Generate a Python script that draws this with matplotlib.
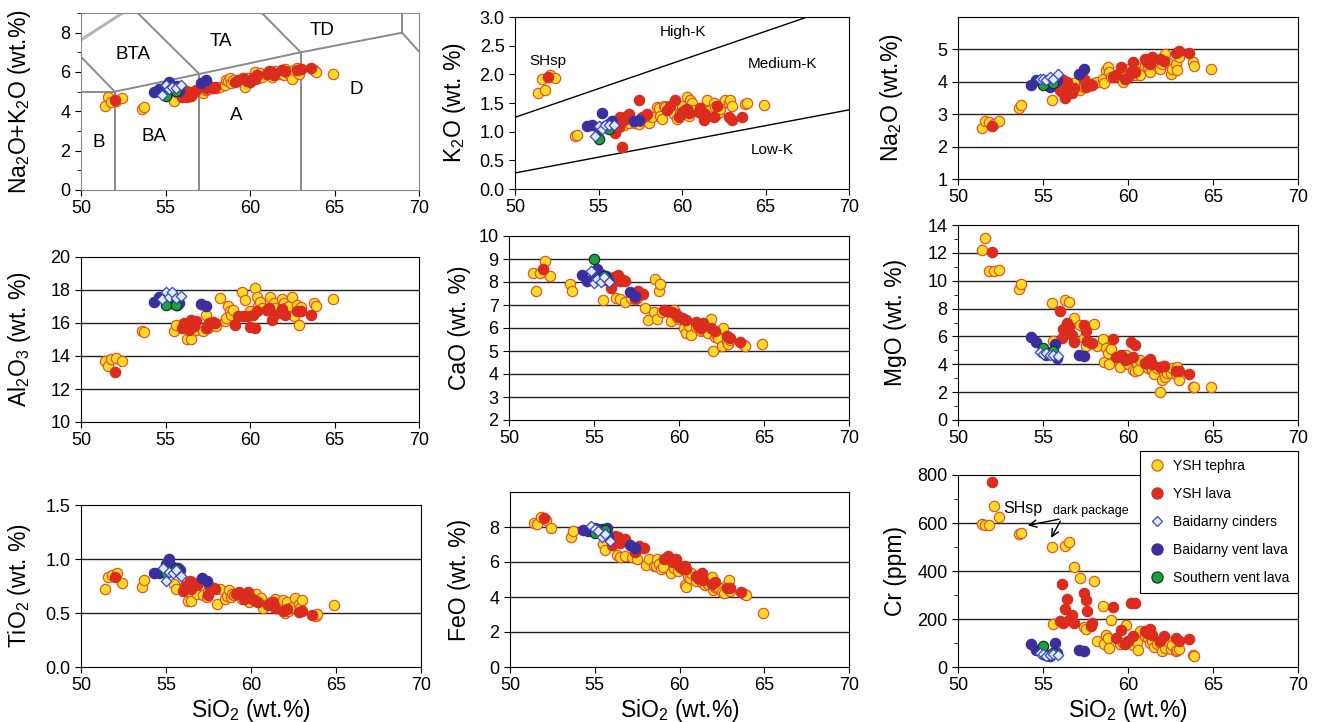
import matplotlib
matplotlib.use("Agg")
import matplotlib.pyplot as plt
import numpy as np
from matplotlib.lines import Line2D
from matplotlib.ticker import MultipleLocator

plt.rcParams.update({
    "font.family": "Liberation Sans", "font.size": 13,
    "mathtext.fontset": "custom", "mathtext.rm": "Liberation Sans",
    "mathtext.default": "regular",
    "xtick.direction": "out", "ytick.direction": "out",
    "xtick.major.size": 4, "ytick.major.size": 4, "ytick.minor.size": 3,
})

# --- SiO2 of each sample group -------------------------------------------
TEPHRA_SIO2 = [51.4, 51.6, 51.8, 52.1, 52.4, 53.6, 53.7, 55.5, 55.6, 56.3,
               56.5, 56.8, 57.2, 57.4, 57.5, 58.0, 58.2, 58.5, 58.6, 58.7,
               58.8, 58.9, 59.0, 59.5, 59.7, 59.9, 60.0, 60.3, 60.4, 60.5,
               60.6, 60.7, 61.0, 61.2, 61.3, 61.4, 61.5, 61.7, 61.9, 62.0,
               62.1, 62.2, 62.3, 62.5, 62.6, 62.8, 62.9, 63.0, 63.8, 63.9,
               64.9]
LAVA_SIO2 = [52.0, 56.0, 56.1, 56.2, 56.3, 56.4, 56.5, 56.7, 56.8, 57.4,
             57.5, 57.6, 57.8, 57.9, 59.1, 59.3, 59.6, 59.8, 60.0, 60.2,
             60.3, 60.4, 61.0, 61.1, 61.3, 61.4, 61.9, 62.1, 62.8, 63.0,
             63.6]
CINDER_SIO2 = [54.8, 55.0, 55.2, 55.4, 55.6, 55.9]
VENT_SIO2 = [54.3, 54.6, 55.0, 55.2, 55.4, 55.7, 55.8, 57.1, 57.4]
SOUTH_SIO2 = [55.0, 55.6]

# --- Na2O+K2O ---------------------------------------------------------------
TEPHRA_ALK = [4.25, 4.75, 4.5, 4.55, 4.7, 4.1, 4.2, 4.55, 5.0, 4.85,
              4.9, 5.05, 4.95, 5.1, 5.15, 5.2, 5.25, 5.35, 5.6, 5.55,
              5.7, 5.45, 5.6, 5.5, 5.25, 5.7, 5.55, 6.0, 5.85, 5.7,
              5.95, 5.75, 5.9, 6.0, 5.75, 5.95, 6.05, 5.9, 6.1, 5.85,
              6.15, 6.0, 5.9, 5.65, 6.1, 6.2, 5.9, 6.15, 6.1, 6.0, 5.9]
LAVA_ALK = [4.6, 4.75, 4.9, 5.05, 4.75, 5.0, 4.8, 5.0, 5.1, 5.2,
            5.25, 5.3, 5.2, 5.25, 5.5, 5.6, 5.7, 5.55, 5.5, 5.7,
            5.65, 5.85, 5.9, 6.05, 6.0, 5.85, 6.1, 6.05, 6.1, 6.15, 6.2]
CINDER_ALK = [4.85, 5.35, 5.15, 5.25, 5.2, 5.35]
VENT_ALK = [5.0, 5.15, 5.3, 5.5, 5.1, 5.3, 5.05, 5.45, 5.6]
SOUTH_ALK = [4.8, 5.05]

# --- K2O ----------------------------------------------------------------------
TEPHRA_K2O = [1.68, 1.92, 1.72, 1.98, 1.93, 0.92, 0.95, 1.08, 1.12, 1.18,
              1.12, 1.15, 1.15, 1.13, 1.18, 1.15, 1.25, 1.43, 1.42, 1.28,
              1.22, 1.45, 1.43, 1.3, 1.22, 1.33, 1.45, 1.6, 1.28, 1.55,
              1.5, 1.38, 1.35, 1.3, 1.4, 1.45, 1.55, 1.38, 1.5, 1.43,
              1.3, 1.35, 1.4, 1.52, 1.55, 1.5, 1.55, 1.45, 1.48, 1.5, 1.47]
LAVA_K2O = [1.95, 0.98, 1.2, 1.08, 1.25, 0.74, 1.2, 1.28, 1.3, 1.55,
            1.2, 1.25, 1.28, 1.3, 1.37, 1.45, 1.55, 1.25, 1.35, 1.38,
            1.4, 1.32, 1.35, 1.42, 1.2, 1.3, 1.25, 1.45, 1.25, 1.2, 1.25]
CINDER_K2O = [0.93, 1.1, 1.05, 1.12, 1.12, 1.12]
VENT_K2O = [1.1, 1.12, 1.05, 1.33, 1.1, 1.15, 1.18, 1.18, 1.2]
SOUTH_K2O = [0.87, 1.05]

# --- Na2O ---------------------------------------------------------------------
TEPHRA_NA2O = [2.58, 2.8, 2.75, 2.7, 2.8, 3.2, 3.28, 3.45, 3.9, 3.85,
               3.75, 3.95, 3.75, 3.85, 3.9, 3.95, 4.0, 4.1, 3.95, 4.35,
               4.45, 4.3, 4.15, 4.2, 4.0, 4.35, 4.4, 4.35, 4.2, 4.45,
               4.3, 4.2, 4.5, 4.45, 4.3, 4.6, 4.6, 4.5, 4.4, 4.55,
               4.7, 4.85, 4.6, 4.25, 4.4, 4.55, 4.35, 4.75, 4.6, 4.5, 4.4]
LAVA_NA2O = [2.65, 3.75, 3.7, 4.05, 3.5, 4.0, 3.8, 3.65, 3.8, 4.1,
             3.85, 3.95, 3.9, 3.9, 4.15, 4.2, 4.45, 4.1, 4.15, 4.3,
             4.6, 4.3, 4.7, 4.6, 4.55, 4.75, 4.7, 4.65, 4.9, 4.95, 4.9]
CINDER_NA2O = [4.1, 4.1, 4.05, 4.15, 4.1, 4.25]
VENT_NA2O = [3.9, 4.05, 3.95, 3.9, 3.85, 4.0, 4.05, 4.25, 4.4]
SOUTH_NA2O = [3.9, 3.95]

# --- Al2O3 --------------------------------------------------------------------
TEPHRA_AL2O3 = [13.7, 13.4, 13.8, 13.9, 13.7, 15.5, 15.45, 15.5, 15.9, 15.0,
                15.05, 15.6, 15.5, 16.5, 15.7, 15.8, 17.5, 16.1, 16.3, 17.05,
                16.7, 16.5, 16.8, 17.85, 17.4, 16.4, 16.75, 18.15, 17.6, 17.0,
                17.3, 16.9, 16.8, 17.6, 16.7, 17.2, 16.9, 16.6, 17.45, 17.2,
                16.9, 16.8, 17.0, 17.6, 16.4, 17.1, 15.9, 16.95, 17.2, 17.05,
                17.45]
LAVA_AL2O3 = [13.0, 15.7, 16.0, 15.9, 16.0, 15.55, 16.2, 15.8, 16.1, 15.7,
              15.9, 16.0, 16.05, 16.0, 15.9, 16.4, 16.4, 16.4, 15.75, 16.5,
              15.7, 16.7, 16.8, 16.9, 16.2, 16.5, 16.85, 16.5, 16.7, 16.7,
              16.5]
CINDER_AL2O3 = [17.45, 17.85, 17.6, 17.9, 17.5, 17.65]
VENT_AL2O3 = [17.3, 17.55, 17.3, 17.45, 17.2, 17.1, 17.2, 17.15, 17.05]
SOUTH_AL2O3 = [17.1, 17.1]

# --- CaO ----------------------------------------------------------------------
TEPHRA_CAO = [8.4, 7.6, 8.4, 8.9, 8.25, 7.9, 7.6, 7.2, 8.1, 7.3,
              7.25, 7.15, 7.3, 7.25, 7.3, 6.85, 6.35, 6.7, 8.15, 6.4,
              7.6, 7.9, 6.7, 6.3, 6.8, 6.5, 6.4, 6.0, 5.8, 6.2,
              6.1, 5.7, 6.05, 6.1, 5.85, 5.9, 5.95, 5.8, 6.4, 5.0,
              5.6, 5.75, 5.55, 5.2, 6.0, 5.45, 5.3, 5.5, 5.25, 5.2, 5.3]
LAVA_CAO = [8.55, 7.75, 8.0, 8.2, 8.1, 8.3, 8.05, 8.1, 8.05, 7.3,
            7.55, 7.6, 7.5, 7.5, 6.8, 6.75, 6.7, 6.6, 6.5, 6.45,
            6.4, 6.35, 6.25, 6.1, 6.0, 6.2, 6.0, 5.85, 5.65, 5.55, 5.4]
CINDER_CAO = [8.5, 7.95, 8.15, 8.0, 8.2, 8.0]
VENT_CAO = [8.3, 8.05, 8.4, 8.55, 8.35, 8.25, 8.1, 7.55, 7.4]
SOUTH_CAO = [9.0, 8.25]

# --- MgO ----------------------------------------------------------------------
TEPHRA_MGO = [12.2, 13.1, 10.7, 10.7, 10.8, 9.4, 9.8, 8.4, 5.7, 8.6,
              8.5, 7.3, 6.8, 5.9, 5.3, 6.9, 5.3, 5.8, 4.2, 5.2,
              4.8, 4.0, 5.1, 3.8, 4.5, 4.7, 4.0, 3.6, 3.5, 4.1,
              3.6, 4.3, 4.1, 3.7, 3.9, 3.6, 3.3, 3.7, 2.0, 2.9,
              3.9, 3.1, 3.4, 3.4, 3.7, 3.3, 3.8, 2.9, 2.4, 2.4, 2.4]
LAVA_MGO = [12.05, 7.8, 5.9, 6.5, 6.4, 7.0, 6.7, 6.1, 5.6, 6.8,
            6.4, 5.7, 5.5, 5.5, 5.8, 4.5, 4.7, 4.3, 4.4, 5.6,
            4.5, 5.4, 4.1, 4.2, 4.35, 4.0, 3.8, 3.9, 3.5, 3.5, 3.3]
CINDER_MGO = [4.9, 4.75, 4.8, 4.7, 4.65, 4.6]
VENT_MGO = [5.95, 5.6, 5.0, 4.7, 4.8, 5.45, 4.45, 4.65, 4.6]
SOUTH_MGO = [5.15, 4.95]

# --- TiO2 ---------------------------------------------------------------------
TEPHRA_TIO2 = [0.72, 0.83, 0.85, 0.87, 0.78, 0.74, 0.81, 0.77, 0.72, 0.61,
               0.61, 0.68, 0.67, 0.65, 0.70, 0.58, 0.72, 0.63, 0.66, 0.71,
               0.65, 0.68, 0.67, 0.63, 0.66, 0.60, 0.64, 0.68, 0.60, 0.62,
               0.64, 0.55, 0.58, 0.60, 0.57, 0.63, 0.55, 0.58, 0.62, 0.50,
               0.60, 0.52, 0.55, 0.56, 0.64, 0.58, 0.55, 0.62, 0.47, 0.49,
               0.57]
LAVA_TIO2 = [0.83, 0.70, 0.75, 0.73, 0.76, 0.80, 0.72, 0.78, 0.76, 0.79,
             0.67, 0.74, 0.73, 0.72, 0.68, 0.69, 0.63, 0.69, 0.64, 0.62,
             0.61, 0.60, 0.57, 0.58, 0.60, 0.55, 0.52, 0.54, 0.51, 0.52,
             0.48]
CINDER_TIO2 = [0.92, 0.80, 0.88, 0.87, 0.90, 0.84]
VENT_TIO2 = [0.87, 0.87, 0.95, 1.0, 0.93, 0.92, 0.90, 0.82, 0.80]
SOUTH_TIO2 = [0.87, 0.91]

# --- FeO ----------------------------------------------------------------------
TEPHRA_FEO = [8.25, 8.2, 8.55, 8.4, 7.95, 7.45, 7.75, 7.05, 6.7, 6.4,
              6.3, 6.35, 6.3, 6.6, 6.2, 5.85, 6.15, 5.8, 5.75, 6.15,
              5.9, 5.6, 5.7, 5.4, 5.65, 5.5, 5.8, 4.7, 4.6, 5.2,
              5.1, 5.35, 4.9, 5.0, 4.85, 4.8, 4.7, 4.75, 5.15, 4.4,
              4.6, 4.5, 4.55, 4.3, 4.25, 4.7, 5.0, 4.35, 4.15, 4.1, 3.1]
LAVA_FEO = [8.5, 7.0, 7.2, 7.5, 7.3, 7.45, 7.1, 7.2, 7.3, 6.6,
            6.75, 6.9, 6.8, 6.8, 6.2, 6.35, 6.0, 6.15, 5.7, 5.6,
            5.8, 5.6, 5.2, 5.1, 5.4, 4.95, 4.75, 4.85, 4.5, 4.5, 4.3]
CINDER_FEO = [8.05, 7.9, 7.8, 7.45, 7.6, 7.2]
VENT_FEO = [7.85, 7.8, 7.95, 7.9, 7.9, 7.95, 7.5, 6.95, 6.8]
SOUTH_FEO = [7.65, 7.85]

# --- Cr (ppm) -----------------------------------------------------------------
TEPHRA_CR = [595, 590, 590, 670, 625, 555, 560, 500, 180, 505,
             520, 415, 370, 165, 160, 360, 110, 255, 95, 135,
             120, 80, 195, 95, 100, 175, 110, 90, 120, 105,
             70, 150, 130, 120, 100, 110, 85, 95, 100, 65,
             120, 80, 110, 75, 90, 65, 70, 75, 50, 45, np.nan]
LAVA_CR = [770, 190, 345, 185, 240, 285, 195, 215, 185, 310,
           280, 235, 170, 185, 250, 120, 155, 95, 110, 265,
           130, 265, 150, 140, 160, 135, 110, 130, 120, 110, 115]
CINDER_CR = [60, 55, 45, 50, 55, 50]
VENT_CR = [95, 70, 55, 50, 45, 100, 60, 70, 68]
SOUTH_CR = [88, 58]

# classification boundaries (TAS of Le Bas et al.; K2O series)
TAS_LINES = [[(50, 5), (52, 5)], [(52, 0), (52, 5)], [(57, 0), (57, 5.9)],
             [(63, 0), (63, 7)], [(52, 5), (57, 5.9), (63, 7), (69, 8)],
             [(69, 8), (69, 13)], [(69, 8), (77.3, 0)], [(52, 5), (49.4, 7.3)],
             [(57, 5.9), (53, 9.3)], [(63, 7), (57.6, 11.7)]]
TAS_TOP_LINE = [(49.4, 7.3), (53, 9.3)]
TAS_FIELDS = [("B", 51.05, 2.4), ("BA", 54.3, 2.7), ("BTA", 53.1, 6.9),
              ("TA", 58.3, 7.55), ("TD", 64.25, 8.1), ("A", 59.2, 3.8),
              ("D", 66.3, 5.1)]
K_LINES = [[(50, 1.25), (70, 3.25)], [(50, 0.28), (70, 1.38)]]
K_FIELDS = [("SHsp", 51.95, 2.23), ("High-K", 60.05, 2.73),
            ("Medium-K", 66.0, 2.18), ("Low-K", 65.4, 0.68)]

TEPHRA_C, TEPHRA_E = "#FFDD22", "#E0562A"
LAVA_C, LAVA_E = "#E12A1E", "#D0301E"
CINDER_C, CINDER_E = "#E2ECFF", "#3A48C0"
VENT_C = "#3B2FA0"
SOUTH_C, SOUTH_E = "#1FA040", "#0E3A18"

W, H = 1320, 722
fig = plt.figure(figsize=(W / 100, H / 100), dpi=100)


def px_axes(l, r, t, b):
    ax = fig.add_axes([l / W, 1 - b / H, (r - l) / W, (b - t) / H])
    ax._px = (l, r)
    return ax


def draw_groups(ax, vals):
    tephra, lava, cinder, vent, south = vals
    kw = dict(s=55, linewidths=0.9, zorder=3)
    ax.scatter(TEPHRA_SIO2, tephra, c=TEPHRA_C, edgecolors=TEPHRA_E, **kw)
    ax.scatter(LAVA_SIO2, lava, c=LAVA_C, edgecolors=LAVA_E, **kw)
    ax.scatter(VENT_SIO2, vent, c=VENT_C, edgecolors=VENT_C, **kw)
    ax.scatter(CINDER_SIO2, cinder, c=CINDER_C, edgecolors=CINDER_E, marker="D",
               s=28, linewidths=0.9, zorder=4)
    ax.scatter(SOUTH_SIO2, south, c=SOUTH_C, edgecolors=SOUTH_E, **kw)


def style(ax, ylabel, label_px, ylim, step, fmt="{:.0f}", grid=True, minor=None,
          top_label=None, xlabel=False):
    ax.set_xlim(50, 70)
    ax.set_xticks(np.arange(50, 71, 5))
    ax.set_ylim(*ylim)
    top = ylim[1] if top_label is None else top_label
    ticks = np.arange(ylim[0], top + step / 2, step)
    ax.set_yticks(ticks)
    ax.set_yticklabels([fmt.format(t) for t in ticks])
    if minor:
        ax.yaxis.set_minor_locator(MultipleLocator(minor))
    if grid:
        for t in ticks[1:]:
            if t < ylim[1]:
                ax.axhline(t, color="#222222", lw=1, zorder=1)
    ax.tick_params(labelsize=13, right=False, top=False)
    ax.set_ylabel(ylabel, fontsize=16.5)
    l, r = ax._px
    # place the label so its centre sits at label_px (figure pixels)
    ax.yaxis.set_label_coords((label_px + 10 - l) / (r - l), 0.5)
    if xlabel:
        ax.set_xlabel("SiO$_2$ (wt.%)", fontsize=16.5, labelpad=2)


# Row 1 ---------------------------------------------------------------------
ax = px_axes(81, 419, 13, 190)
for seg in TAS_LINES:
    xs, ys = zip(*seg)
    ax.plot(xs, ys, color="#8a8a8a", lw=1.4, zorder=2)
xs, ys = zip(*TAS_TOP_LINE)
ax.plot(xs, ys, color="#b5b5b5", lw=2.2, zorder=2)
for name, x, y in TAS_FIELDS:
    ax.text(x, y, name, fontsize=13.5, ha="center", va="center")
draw_groups(ax, (TEPHRA_ALK, LAVA_ALK, CINDER_ALK, VENT_ALK, SOUTH_ALK))
style(ax, "Na$_2$O+K$_2$O (wt.%)", 23, (0, 9), 2, grid=False, minor=1,
      top_label=8)
for sp in ax.spines.values():
    sp.set_color("#8a8a8a")

ax = px_axes(515, 849, 17, 189)
for seg in K_LINES:
    xs, ys = zip(*seg)
    ax.plot(xs, ys, color="black", lw=1, zorder=2)
for name, x, y in K_FIELDS:
    ax.text(x, y, name, fontsize=11, ha="center", va="center")
draw_groups(ax, (TEPHRA_K2O, LAVA_K2O, CINDER_K2O, VENT_K2O, SOUTH_K2O))
style(ax, "K$_2$O (wt. %)", 458, (0, 3), 0.5, fmt="{:.1f}", grid=False)

ax = px_axes(958, 1298, 17, 179)
draw_groups(ax, (TEPHRA_NA2O, LAVA_NA2O, CINDER_NA2O, VENT_NA2O, SOUTH_NA2O))
style(ax, "Na$_2$O (wt.%)", 895, (1, 6), 1, top_label=5)

# Row 2 ---------------------------------------------------------------------
ax = px_axes(81, 419, 257, 422)
draw_groups(ax, (TEPHRA_AL2O3, LAVA_AL2O3, CINDER_AL2O3, VENT_AL2O3, SOUTH_AL2O3))
style(ax, "Al$_2$O$_3$ (wt. %)", 23, (10, 20), 2)

ax = px_axes(509, 849, 236, 420)
draw_groups(ax, (TEPHRA_CAO, LAVA_CAO, CINDER_CAO, VENT_CAO, SOUTH_CAO))
style(ax, "CaO (wt. %)", 461, (2, 10), 1)

ax = px_axes(958, 1298, 225, 420)
draw_groups(ax, (TEPHRA_MGO, LAVA_MGO, CINDER_MGO, VENT_MGO, SOUTH_MGO))
style(ax, "MgO (wt. %)", 897, (0, 14), 2, minor=1)

# Row 3 ---------------------------------------------------------------------
ax = px_axes(81, 421, 505, 667)
draw_groups(ax, (TEPHRA_TIO2, LAVA_TIO2, CINDER_TIO2, VENT_TIO2, SOUTH_TIO2))
style(ax, "TiO$_2$ (wt. %)", 23, (0, 1.5), 0.5, fmt="{:.1f}", xlabel=True)

ax = px_axes(510, 849, 492, 667)
draw_groups(ax, (TEPHRA_FEO, LAVA_FEO, CINDER_FEO, VENT_FEO, SOUTH_FEO))
style(ax, "FeO (wt. %)", 461, (0, 10), 2, top_label=8, xlabel=True)

ax = px_axes(958, 1298, 475, 667)
draw_groups(ax, (TEPHRA_CR, LAVA_CR, CINDER_CR, VENT_CR, SOUTH_CR))
style(ax, "Cr (ppm)", 897, (0, 800), 200, minor=100, xlabel=True)
ax.text(52.65, 662, "SHsp", fontsize=11.5, va="center")
ax.text(55.6, 650, "dark package", fontsize=9, va="center")
for tip in [(53.95, 588), (55.4, 528)]:
    ax.annotate("", xy=tip, xytext=(56.1, 618),
                arrowprops=dict(arrowstyle="->", color="black", lw=1))

handles = [
    Line2D([], [], ls="", marker="o", ms=8, mfc=TEPHRA_C, mec=TEPHRA_E, mew=0.9),
    Line2D([], [], ls="", marker="o", ms=8, mfc=LAVA_C, mec=LAVA_E, mew=0.9),
    Line2D([], [], ls="", marker="D", ms=5.5, mfc=CINDER_C, mec=CINDER_E, mew=0.9),
    Line2D([], [], ls="", marker="o", ms=8, mfc=VENT_C, mec=VENT_C, mew=0.9),
    Line2D([], [], ls="", marker="o", ms=8, mfc=SOUTH_C, mec=SOUTH_E, mew=0.9),
]
labels = ["YSH tephra", "YSH lava", "Baidarny cinders", "Baidarny vent lava",
          "Southern vent lava"]
leg = fig.legend(handles, labels, loc="upper right",
                 bbox_to_anchor=(1298 / W, 1 - 451 / H), borderaxespad=0,
                 fontsize=10, labelspacing=1.0, handletextpad=0.6,
                 handlelength=1.2, borderpad=0.6, fancybox=False, framealpha=1)
leg.get_frame().set_edgecolor("black")
leg.get_frame().set_linewidth(0.8)

fig.savefig("out.png", dpi=100)
